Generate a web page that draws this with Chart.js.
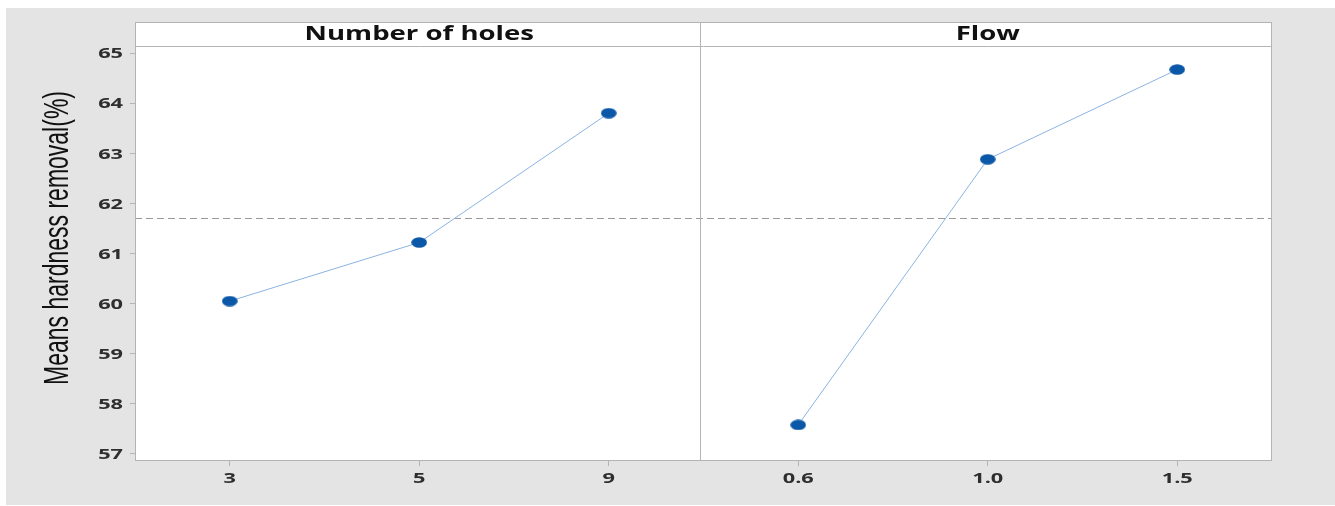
<!DOCTYPE html>
<html><head><meta charset="utf-8">
<script src="https://cdn.jsdelivr.net/npm/chart.js@4.4.1/dist/chart.umd.min.js"></script>
<style>
html,body{margin:0;padding:0;background:#fff;width:1335px;height:506px;overflow:hidden}
#wrap{position:absolute;left:6px;top:8px;width:1329px;height:497px;background:#e4e4e4}
</style></head><body>
<div id="wrap"><canvas id="c" width="1329" height="497"></canvas></div>
<script>
// main effects plot: means per factor level
var xLabels = ['3', '5', '9', '0.6', '1.0', '1.5'];
var panelTitles = ['Number of holes', 'Flow'];
var holesMeans = [60.05, 61.22, 63.80];
var flowMeans = [57.58, 62.88, 64.67];
var yTicks = [57, 58, 59, 60, 61, 62, 63, 64, 65];
var grandMean = 61.70;
var yTitle = 'Means hardness removal(%)';

var frameColor = '#b4b4b4';
var stripH = 24;
var stretch = 1.45; // the original image is stretched sideways

// wide elliptical marker
var dot = document.createElement('canvas');
dot.width = 16; dot.height = 11;
(function() {
  var g = dot.getContext('2d');
  g.fillStyle = '#0b57a8';
  g.beginPath(); g.ellipse(8, 5.5, 7.8, 5.2, 0, 0, Math.PI * 2); g.fill();
})();

function wideText(ctx, txt, x, y, align) {
  ctx.save();
  ctx.translate(x, y);
  ctx.scale(stretch, 1);
  ctx.textAlign = align;
  ctx.fillText(txt, 0, 0);
  ctx.restore();
}

var panelPlugin = {
  id: 'panels',
  beforeDraw: function(chart) {
    var a = chart.chartArea, ctx = chart.ctx;
    ctx.save();
    ctx.fillStyle = '#fff';
    ctx.fillRect(a.left, a.top - stripH, a.right - a.left, a.bottom - a.top + stripH);
    ctx.restore();
  },
  beforeDatasetsDraw: function(chart) {
    var a = chart.chartArea, ctx = chart.ctx;
    var x = chart.scales.x, y = chart.scales.y;
    ctx.save();
    // grand mean reference line
    var ym = Math.round(y.getPixelForValue(grandMean)) + 0.5;
    ctx.strokeStyle = '#9a9a9a';
    ctx.lineWidth = 1;
    ctx.setLineDash([7, 4]);
    ctx.beginPath(); ctx.moveTo(a.left, ym); ctx.lineTo(a.right, ym); ctx.stroke();
    ctx.setLineDash([]);
    // panel divider
    var xd = Math.round(x.getPixelForValue(2.5)) - 3.5;
    ctx.strokeStyle = frameColor;
    ctx.beginPath(); ctx.moveTo(xd, a.top - stripH); ctx.lineTo(xd, a.bottom); ctx.stroke();
    // frame + strip
    ctx.strokeRect(a.left + 0.5, a.top - stripH + 0.5, a.right - a.left - 1, a.bottom - a.top + stripH - 1);
    ctx.beginPath(); ctx.moveTo(a.left, a.top + 0.5); ctx.lineTo(a.right, a.top + 0.5); ctx.stroke();
    // strip titles
    ctx.fillStyle = '#111';
    ctx.font = 'bold 19px "Open Sans", sans-serif';
    ctx.textBaseline = 'middle';
    wideText(ctx, panelTitles[0], x.getPixelForValue(1), a.top - stripH / 2 + 1, 'center');
    wideText(ctx, panelTitles[1], x.getPixelForValue(4), a.top - stripH / 2 + 1, 'center');
    ctx.restore();
  },
  afterDraw: function(chart) {
    var a = chart.chartArea, ctx = chart.ctx;
    var x = chart.scales.x, y = chart.scales.y;
    ctx.save();
    ctx.fillStyle = '#2e2e2e';
    ctx.font = 'bold 15px "Open Sans", sans-serif';
    ctx.textBaseline = 'middle';
    y.ticks.forEach(function(t) {
      wideText(ctx, String(t.value), a.left - 12, y.getPixelForValue(t.value) + 1, 'right');
    });
    xLabels.forEach(function(lab, i) {
      wideText(ctx, lab, x.getPixelForValue(i), a.bottom + 18, 'center');
    });
    // axis title, rotated; glyphs widened the same way as the rest
    ctx.fillStyle = '#111';
    ctx.font = '23px "Liberation Sans", sans-serif';
    ctx.translate(52, 230);
    ctx.rotate(-Math.PI / 2);
    ctx.scale(1, 1.5);
    ctx.textAlign = 'center';
    ctx.textBaseline = 'middle';
    ctx.fillText(yTitle, 0, 0);
    ctx.restore();
  }
};

var pad = [null, null, null];

new Chart(document.getElementById('c').getContext('2d'), {
  type: 'line',
  data: {
    labels: xLabels,
    datasets: [
      { data: holesMeans.concat(pad), borderColor: '#8cb4e2', borderWidth: 1, pointStyle: dot },
      { data: pad.concat(flowMeans), borderColor: '#8cb4e2', borderWidth: 1, pointStyle: dot }
    ]
  },
  options: {
    responsive: false,
    animation: false,
    spanGaps: false,
    layout: { padding: { top: 38, right: 63, left: 0, bottom: 0 } },
    plugins: { legend: { display: false }, tooltip: { enabled: false } },
    scales: {
      x: {
        type: 'category', offset: true,
        grid: { offset: false, drawOnChartArea: false, tickLength: 5, color: frameColor },
        border: { display: false },
        ticks: { display: false },
        afterFit: function(s) { s.height = 44; }
      },
      y: {
        min: 56.86, max: 65.14,
        grid: { drawOnChartArea: false, tickLength: 5, color: frameColor },
        border: { display: false },
        ticks: { display: false },
        afterBuildTicks: function(s) { s.ticks = yTicks.map(function(v) { return { value: v }; }); },
        afterFit: function(s) { s.width = 129; }
      }
    }
  },
  plugins: [panelPlugin]
});
</script>
</body></html>
